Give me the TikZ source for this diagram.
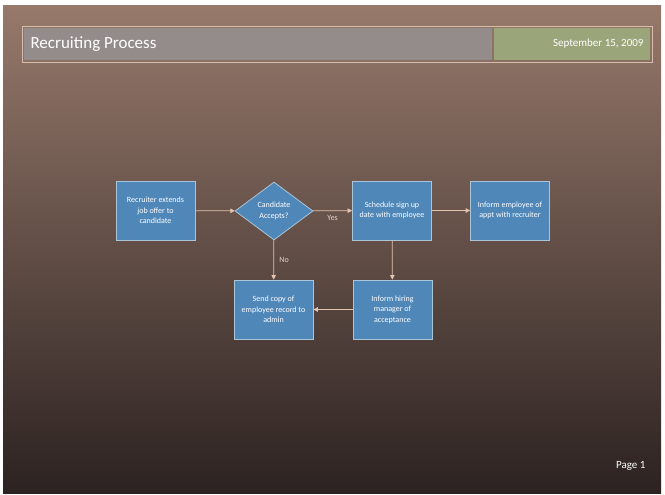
\documentclass[tikz,border=0pt]{standalone}
\usepackage{fontspec}
\setmainfont{Carlito}
\usetikzlibrary{arrows.meta,shapes.geometric}
\definecolor{bgtop}{RGB}{150,121,107}
\definecolor{bgbot}{RGB}{44,34,33}
\definecolor{bargray}{RGB}{148,139,139}
\definecolor{bargreen}{RGB}{154,166,122}
\definecolor{barline}{RGB}{214,190,170}
\definecolor{boxblue}{RGB}{79,135,184}
\definecolor{boxline}{RGB}{170,196,216}
\definecolor{arrowcol}{RGB}{226,196,176}
\definecolor{labelcol}{RGB}{226,214,206}

\begin{document}
\begin{tikzpicture}[x=1pt,y=-1pt,
    stepbox/.style={draw=boxline,fill=boxblue,line width=0.8pt,minimum width=79pt,minimum height=59pt,
        align=center,text=white,font=\fontsize{8}{10.5}\selectfont,inner sep=2pt},
    decision/.style={diamond,draw=boxline,fill=boxblue,line width=0.8pt,minimum width=78pt,minimum height=58pt,
        aspect=1.35,align=center,text=white,font=\fontsize{8}{10.5}\selectfont,inner sep=0pt},
    flow/.style={draw=arrowcol,line width=0.8pt,-{Triangle[length=4.5pt,width=4.5pt]}},
    flowlabel/.style={text=labelcol,font=\fontsize{8}{10}\selectfont}]
        % page and background
        \useasboundingbox (0,0) rectangle (665,495);
        \fill[white] (0,0) rectangle (665,495);
        \shade[top color=bgtop,bottom color=bgbot] (3,6) rectangle (661,493);
        % header bar
        \draw[barline,line width=0.8pt] (22,26) rectangle (652,62);
        \fill[bargray] (24,28) rectangle (492,60);
        \fill[bargreen] (494,28) rectangle (650,60);
        \node[anchor=west,text=white,font=\fontsize{17}{20}\selectfont] (title) at (27,44) {Recruiting Process};
        \node[anchor=east,text=white,font=\fontsize{11}{13}\selectfont] (date) at (647,44) {September 15, 2009};
        % steps
        \node[stepbox] (offer) at (155.5,210.5) {Recruiter extends\\job offer to\\candidate};
        \node[decision] (accept) at (274,211) {Candidate\\Accepts?};
        \node[stepbox] (schedule) at (392,210.5) {Schedule sign up\\date with employee};
        \node[stepbox] (inform) at (510,210.5) {Inform employee of\\appt with recruiter};
        \node[stepbox] (copy) at (273.5,309.5) {Send copy of\\employee record to\\admin};
        \node[stepbox] (hiring) at (392.5,309.5) {Inform hiring\\manager of\\acceptance};
        % connectors
        \draw[flow] (offer) -- (accept);
        \draw[flow] (accept) -- node[flowlabel,below=1pt] {Yes} (schedule);
        \draw[flow] (schedule) -- (inform);
        \draw[flow] (schedule) -- (hiring);
        \draw[flow] (hiring) -- (copy);
        \draw[flow] (accept) -- node[flowlabel,right=2pt] {No} (copy);
        % footer
        \node[anchor=east,text=white,font=\fontsize{11}{13}\selectfont] (page) at (649,466) {Page 1};
\end{tikzpicture}
\end{document}
